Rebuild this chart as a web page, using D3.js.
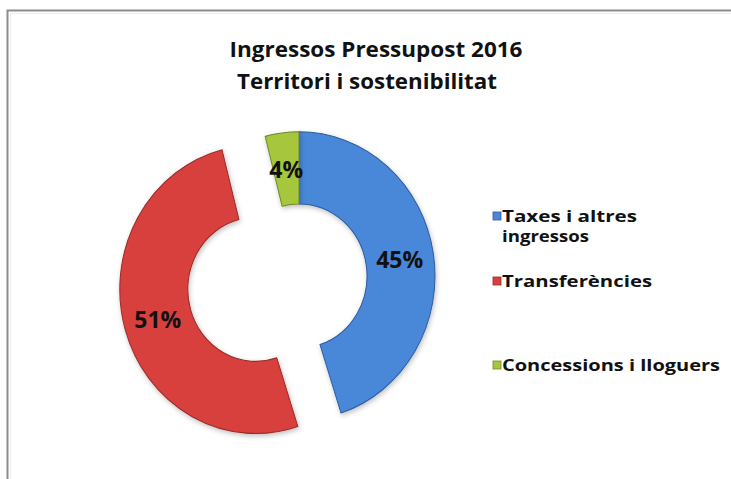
<!DOCTYPE html>
<html><head><meta charset="utf-8">
<script src="https://cdn.jsdelivr.net/npm/d3@7"></script>
<style>body{margin:0;background:#fff}svg{display:block}</style>
</head><body>
<svg id="c" width="731" height="479"></svg>
<script>
// ---- data ----
const categories = ["Taxes i altres ingressos", "Transferències", "Concessions i lloguers"];
const values = [45, 51, 4];
const valueLabels = ["45%", "51%", "4%"];
const legendLines = [["Taxes i altres", "ingressos"], ["Transferències"], ["Concessions i lloguers"]];
const titleLines = ["Ingressos Pressupost 2016", "Territori i sostenibilitat"];
const colors = ["#4a87d8", "#d8403c", "#a6c63e"];
const strokes = ["#2d5c9c", "#9a2b28", "#6e8a26"];
const explodeOffsets = [0, 45, 0];

// ---- layout ----
const svg = d3.select("#c");
const cx = 299, cy = 276, rOuter = 136, rInner = 68, yScale = 1.06;

// frame
svg.append("rect").attr("x", 0).attr("y", 0).attr("width", 731).attr("height", 479).attr("fill", "#fff");
svg.append("path").attr("d", "M7.5,479 V10.5 H731").attr("fill", "none").attr("stroke", "#8c8c8c").attr("stroke-width", 2);
svg.append("path").attr("d", "M10.5,479 V13.5 H731").attr("fill", "none").attr("stroke", "#ececec").attr("stroke-width", 1);

const defs = svg.append("defs");
const f = defs.append("filter").attr("id", "sh").attr("x", "-20%").attr("y", "-20%").attr("width", "140%").attr("height", "140%");
f.append("feDropShadow").attr("dx", 1).attr("dy", 2).attr("stdDeviation", 2.5).attr("flood-color", "#000").attr("flood-opacity", 0.25);

// title
const title = svg.append("g").attr("font-family", "'Open Sans', sans-serif").attr("font-weight", 700).attr("font-size", 21).attr("fill", "#111");
const titlePos = [{x: 376, y: 57, w: 293}, {x: 367, y: 89, w: 260}];
titleLines.forEach((t, i) => {
  title.append("text").attr("x", titlePos[i].x).attr("y", titlePos[i].y).attr("text-anchor", "middle")
    .attr("textLength", titlePos[i].w).attr("lengthAdjust", "spacingAndGlyphs").text(t);
});

// pie
const pie = d3.pie().sort(null).value(d => d).startAngle(0).endAngle(2 * Math.PI);
const arcs = pie(values);
const arc = d3.arc().innerRadius(rInner).outerRadius(rOuter);

const g = svg.append("g").attr("transform", `translate(${cx},${cy}) scale(1,${yScale})`);
arcs.forEach((a, i) => {
  const mid = (a.startAngle + a.endAngle) / 2;
  const dx = explodeOffsets[i] * Math.sin(mid), dy = -explodeOffsets[i] * Math.cos(mid);
  g.append("path").attr("d", arc(a)).attr("transform", `translate(${dx},${dy})`)
    .attr("fill", colors[i]).attr("stroke", strokes[i]).attr("stroke-width", 1)
    .attr("filter", "url(#sh)");
});

// value labels
const lab = svg.append("g").attr("font-family", "'Open Sans', sans-serif").attr("font-weight", 700).attr("font-size", 23).attr("fill", "#111");
arcs.forEach((a, i) => {
  const mid = (a.startAngle + a.endAngle) / 2;
  const dx = explodeOffsets[i] * Math.sin(mid), dy = -explodeOffsets[i] * Math.cos(mid);
  const c = arc.centroid(a);
  lab.append("text").attr("x", cx + c[0] + dx).attr("y", cy + (c[1] + dy) * yScale)
    .attr("text-anchor", "middle").attr("dominant-baseline", "central").text(valueLabels[i]);
});

// legend
const leg = svg.append("g").attr("font-family", "'Open Sans', sans-serif").attr("font-weight", 700).attr("font-size", 16).attr("fill", "#111");
const legY = [222, 287, 371];
const legW = [[135, 87], [150], [218]];
categories.forEach((c, i) => {
  leg.append("rect").attr("x", 493).attr("y", legY[i] - 10).attr("width", 8).attr("height", 8)
    .attr("fill", colors[i]).attr("stroke", strokes[i]).attr("stroke-width", 0.8);
  legendLines[i].forEach((t, j) => {
    leg.append("text").attr("x", 502).attr("y", legY[i] + j * 20)
      .attr("textLength", legW[i][j]).attr("lengthAdjust", "spacingAndGlyphs").text(t);
  });
});
</script>
</body></html>
